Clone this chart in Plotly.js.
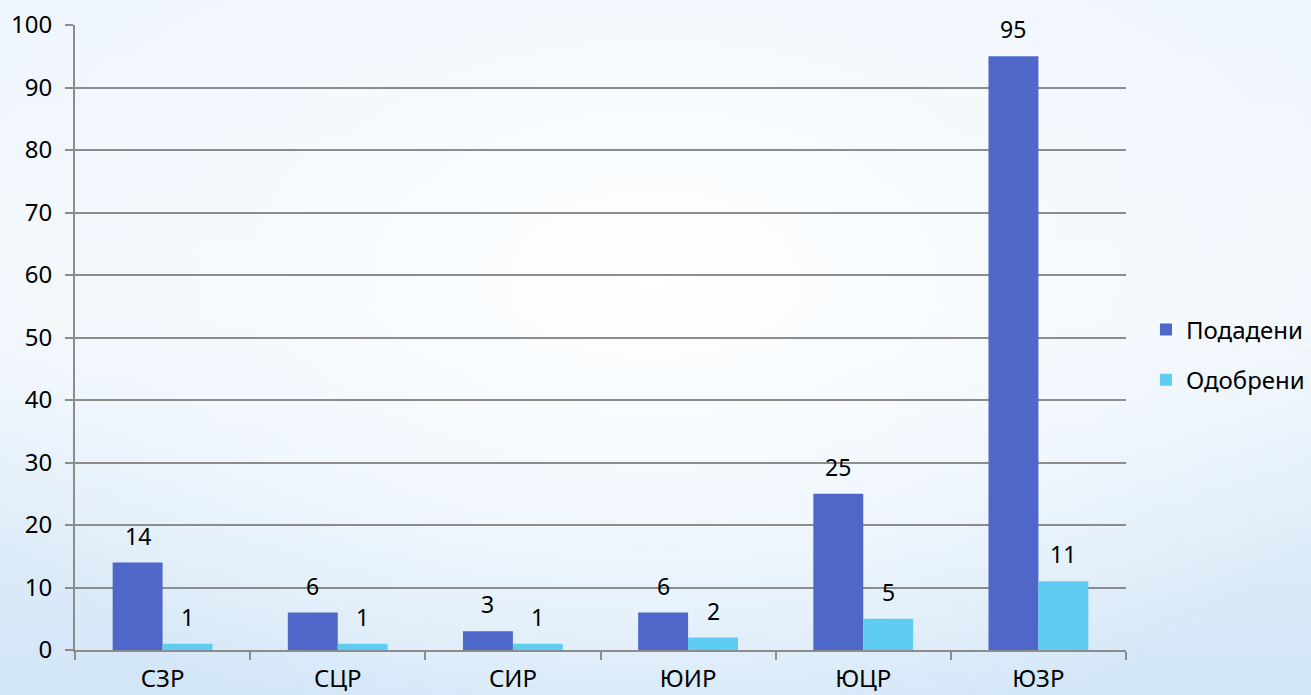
<!DOCTYPE html>
<html>
<head>
<meta charset="utf-8">
<script src="https://cdn.plot.ly/plotly-3.0.1.min.js"></script>
<style>
html,body{margin:0;padding:0;}
body{width:1311px;height:695px;overflow:hidden;
background:
 radial-gradient(ellipse 60% 70% at 50% 40%, rgba(255,255,255,0.95) 0%, rgba(245,250,254,0.8) 50%, rgba(225,238,250,0) 100%),
 linear-gradient(180deg,#eef5fc 0%,#f3f8fd 45%,#dcebf8 80%,#d2e6f7 100%);}
#chart{width:1311px;height:695px;}
</style>
</head>
<body>
<div id="chart"></div>
<script>
const categories = ["СЗР","СЦР","СИР","ЮИР","ЮЦР","ЮЗР"];
const submitted = [14,6,3,6,25,95];
const approved = [1,1,1,2,5,11];
const seriesNames = ["Подадени","Одобрени"];
const yTicks = [0,10,20,30,40,50,60,70,80,90,100];

const FAM = "Noto Sans, Open Sans, DejaVu Sans, sans-serif";
function mkFont(s){ return {family:FAM, size:s, color:"#000"}; }

const traces = [
 {type:"bar", x:categories, y:submitted, name:seriesNames[0], marker:{color:"#4f67c8"}, legendgroup:"a"},
 {type:"bar", x:categories, y:approved, name:seriesNames[1], marker:{color:"#5fcdf2"}, legendgroup:"b"}
];

const annotations = [];
categories.forEach((c,i)=>{
 annotations.push({x:c, y:submitted[i], xref:"x", yref:"y", text:String(submitted[i]), showarrow:false,
  xshift:-25, yshift:9, yanchor:"bottom", font:mkFont(23)});
 annotations.push({x:c, y:approved[i], xref:"x", yref:"y", text:String(approved[i]), showarrow:false,
  xshift:25, yshift:9, yanchor:"bottom", font:mkFont(23)});
});

const layout = {
 width:1311, height:695,
 margin:{l:75, r:185, t:25, b:45, autoexpand:false},
 paper_bgcolor:"rgba(0,0,0,0)", plot_bgcolor:"rgba(0,0,0,0)",
 font:mkFont(24),
 barmode:"group", bargap:0.43, bargroupgap:0,
 xaxis:{type:"category", showline:true, linecolor:"#8c8c8c", linewidth:2,
  ticks:"outside", tickson:"boundaries", ticklen:8, tickcolor:"#8c8c8c", tickwidth:2,
  showgrid:false, tickfont:mkFont(24), automargin:false, ticklabelstandoff:6},
 yaxis:{range:[0,100], tickvals:yTicks, showline:true, linecolor:"#8c8c8c", linewidth:2,
  ticks:"outside", ticklen:8, tickcolor:"#8c8c8c", tickwidth:2,
  showgrid:true, gridcolor:"#8c8c8c", gridwidth:2, zeroline:false, tickfont:mkFont(24), automargin:false,
  ticklabelstandoff:8},
 annotations:annotations,
 showlegend:true,
 legend:{x:1.019, xanchor:"left", y:0.472, yanchor:"middle", font:mkFont(24),
  traceorder:"grouped", tracegroupgap:16, bgcolor:"rgba(0,0,0,0)", itemwidth:30}
};

Plotly.newPlot("chart", traces, layout, {displayModeBar:false, staticPlot:true});
</script>
</body>
</html>
